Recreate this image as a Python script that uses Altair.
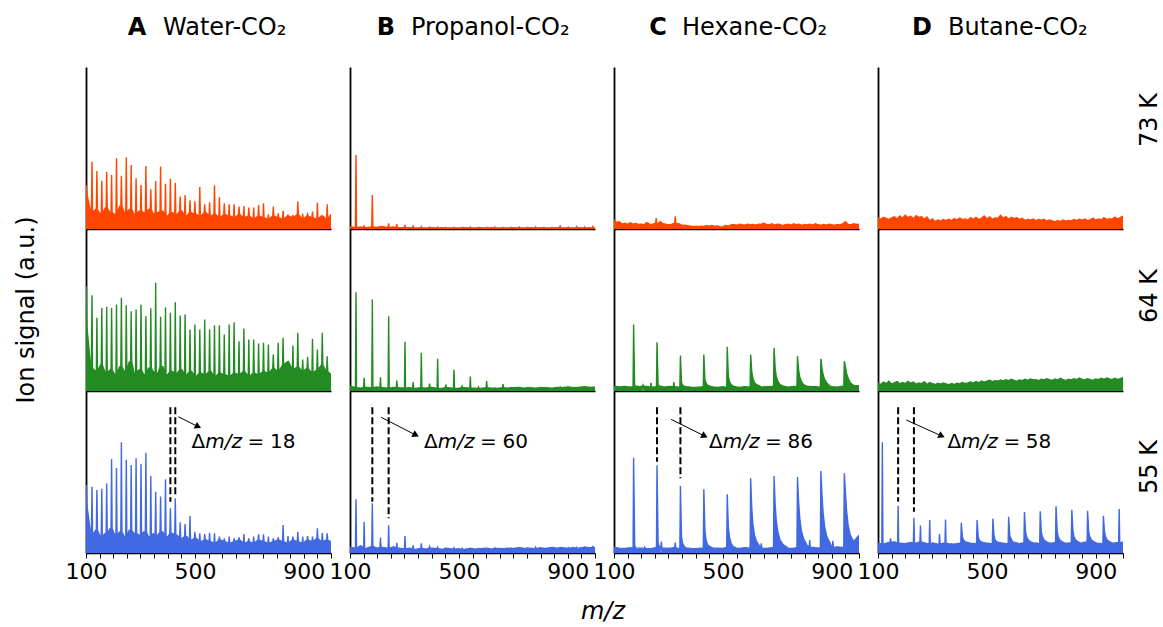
import math
import altair as alt
import numpy as np
import pandas as pd

FONT = "DejaVu Sans"
W, H = 245, 162
ORANGE, GREEN, BLUE = "#FF4500", "#228B22", "#4169E1"

titles = [("A", "Water-CO₂"), ("B", "Propanol-CO₂"), ("C", "Hexane-CO₂"), ("D", "Butane-CO₂")]
temps = ["73 K", "64 K", "55 K"]
tick_values = list(range(100, 1001, 50))
tick_labels = [100, 500, 900]
TAIL_OFFSETS = [4, 8, 14, 22, 34]

# ---------------- Water-CO2 (peaks every 18 m/z) ----------------
water_mz = [101] + list(range(122, 1000, 18))
water_73_h = [0.27, 0.415, 0.358, 0.298, 0.354, 0.333, 0.437, 0.329, 0.442, 0.395, 0.313,
              0.272, 0.389, 0.245, 0.296, 0.385, 0.280, 0.310, 0.284, 0.200, 0.210,
              0.177, 0.171, 0.259, 0.152, 0.165, 0.270, 0.196, 0.159, 0.152, 0.152,
              0.138, 0.142, 0.132, 0.132, 0.148, 0.159, 0.091, 0.138, 0.097, 0.113,
              0.086, 0.086, 0.169, 0.093, 0.091, 0.107, 0.162, 0.076, 0.152]
water_64_h = [0.646, 0.591, 0.452, 0.513, 0.520, 0.513, 0.534, 0.575, 0.530, 0.493, 0.503,
              0.534, 0.462, 0.511, 0.668, 0.458, 0.517, 0.483, 0.548, 0.466, 0.472,
              0.380, 0.410, 0.380, 0.441, 0.380, 0.406, 0.406, 0.349, 0.410, 0.425,
              0.307, 0.386, 0.318, 0.318, 0.293, 0.297, 0.287, 0.225, 0.297, 0.328,
              0.174, 0.281, 0.359, 0.194, 0.211, 0.322, 0.256, 0.359, 0.215]
water_55_h = [0.42, 0.409, 0.389, 0.397, 0.430, 0.580, 0.525, 0.683, 0.576, 0.543, 0.585,
              0.549, 0.619, 0.475, 0.378, 0.348, 0.455, 0.276, 0.338, 0.189, 0.179,
              0.228, 0.131, 0.121, 0.117, 0.125, 0.121, 0.101, 0.091, 0.101, 0.091,
              0.097, 0.117, 0.091, 0.101, 0.115, 0.115, 0.101, 0.091, 0.097, 0.173,
              0.105, 0.101, 0.131, 0.101, 0.105, 0.101, 0.152, 0.125, 0.121]
water_73_base = [0.22, 0.10, 0.12, 0.09, 0.13, 0.10, 0.09, 0.14, 0.10, 0.12, 0.09, 0.11, 0.10,
                 0.12, 0.09, 0.10, 0.11, 0.08, 0.10, 0.09, 0.11, 0.08, 0.10, 0.09, 0.08, 0.10,
                 0.08, 0.09, 0.07, 0.09, 0.08, 0.07, 0.09, 0.07, 0.08, 0.06, 0.08, 0.07, 0.06,
                 0.08, 0.07, 0.06, 0.08, 0.07, 0.09, 0.06, 0.08, 0.07, 0.06, 0.08, 0.06, 0.09]
water_64_base = [0.40, 0.14, 0.12, 0.16, 0.11, 0.13, 0.10, 0.15, 0.12, 0.18, 0.11, 0.13, 0.10,
                 0.14, 0.12, 0.11, 0.15, 0.10, 0.12, 0.11, 0.13, 0.10, 0.12, 0.09, 0.11, 0.10,
                 0.12, 0.09, 0.11, 0.10, 0.09, 0.11, 0.10, 0.12, 0.09, 0.11, 0.10, 0.12, 0.11,
                 0.14, 0.12, 0.16, 0.18, 0.13, 0.15, 0.12, 0.14, 0.11, 0.13, 0.16, 0.12, 0.10]
water_55_base = [0.30, 0.11, 0.14, 0.10, 0.12, 0.15, 0.11, 0.13, 0.10, 0.14, 0.12, 0.11, 0.13,
                 0.10, 0.12, 0.11, 0.13, 0.10, 0.12, 0.11, 0.09, 0.10, 0.08, 0.09, 0.07, 0.08,
                 0.07, 0.06, 0.08, 0.07, 0.06, 0.07, 0.08, 0.06, 0.07, 0.06, 0.08, 0.07, 0.06,
                 0.07, 0.08, 0.07, 0.06, 0.08, 0.07, 0.06, 0.08, 0.07, 0.09, 0.07, 0.08, 0.07]

# ---------------- Propanol-CO2 (peaks every 30/60 m/z) ----------------
prop_mz = list(range(122, 1000, 30))
prop_73_h = [0.457, 0.022, 0.210, 0.015, 0.035, 0.030, 0.025, 0.022, 0.015, 0.012, 0.012,
             0.010, 0.010, 0.010, 0.012, 0.010, 0.010, 0.012, 0.010, 0.010, 0.012, 0.010,
             0.012, 0.010, 0.010, 0.022, 0.012, 0.015, 0.012, 0.015]
prop_64_h = [0.610, 0.081, 0.565, 0.084, 0.462, 0.065, 0.304, 0.055, 0.236, 0.045, 0.199,
             0.040, 0.131, 0.030, 0.090, 0.025, 0.061, 0.020, 0.042, 0.018, 0.015, 0.018,
             0.015, 0.020, 0.018, 0.025, 0.020, 0.018, 0.020, 0.022]
prop_55_h = [0.331, 0.191, 0.307, 0.095, 0.171, 0.063, 0.105, 0.048, 0.059, 0.040, 0.035,
             0.030, 0.032, 0.028, 0.030, 0.028, 0.030, 0.032, 0.028, 0.030, 0.030, 0.032,
             0.035, 0.030, 0.032, 0.035, 0.033, 0.035, 0.038, 0.040]
prop_73_base = [0.012, 0.010, 0.012, 0.008, 0.012, 0.010, 0.014, 0.010, 0.012, 0.008, 0.010,
                0.008, 0.006, 0.008, 0.006, 0.008, 0.006, 0.008, 0.006, 0.008, 0.006, 0.008,
                0.007, 0.006, 0.008, 0.006, 0.008, 0.006, 0.008, 0.006, 0.008, 0.007, 0.006,
                0.008, 0.006, 0.008, 0.007, 0.006, 0.008, 0.006, 0.008, 0.007, 0.008, 0.006,
                0.008, 0.007]
prop_64_base = [0.030, 0.020, 0.018, 0.022, 0.020, 0.025, 0.020, 0.018, 0.022, 0.020, 0.018,
                0.020, 0.016, 0.020, 0.018, 0.022, 0.016, 0.018, 0.020, 0.016, 0.018, 0.020,
                0.017, 0.018, 0.016, 0.020, 0.018, 0.016, 0.020, 0.018, 0.020, 0.022, 0.018,
                0.020, 0.018, 0.022, 0.020, 0.018, 0.022, 0.020, 0.024, 0.020, 0.022, 0.026,
                0.022, 0.024]
prop_55_base = [0.035, 0.030, 0.045, 0.028, 0.040, 0.030, 0.035, 0.028, 0.038, 0.030, 0.025,
                0.030, 0.022, 0.028, 0.024, 0.030, 0.026, 0.022, 0.028, 0.024, 0.026, 0.022,
                0.028, 0.024, 0.026, 0.030, 0.024, 0.028, 0.026, 0.030, 0.028, 0.032, 0.028,
                0.030, 0.026, 0.032, 0.028, 0.034, 0.030, 0.032, 0.028, 0.034, 0.030, 0.036,
                0.032, 0.035]

# ---------------- Hexane-CO2 (peaks every 86 m/z) ----------------
hex_mz = [172, 258, 344, 430, 516, 602, 688, 774, 860, 946]
hex_73_mz = [255, 325]
hex_73_h = [0.067, 0.079]
hex_64_h = [0.410, 0.301, 0.219, 0.225, 0.273, 0.225, 0.267, 0.215, 0.199, 0.184]
hex_64_tails = [[0.03, 0.03, 0.03, 0.025, 0.025], [0.04, 0.03, 0.03, 0.025, 0.025],
                [0.05, 0.035, 0.03, 0.025, 0.025], [0.07, 0.05, 0.035, 0.03, 0.025],
                [0.09, 0.06, 0.04, 0.03, 0.025], [0.12, 0.08, 0.05, 0.04, 0.03],
                [0.14, 0.09, 0.06, 0.04, 0.03], [0.13, 0.09, 0.06, 0.04, 0.03],
                [0.14, 0.10, 0.07, 0.05, 0.03], [0.15, 0.11, 0.08, 0.05, 0.035]]
hex_64_small_mz = [206, 236, 320]
hex_64_small_h = [0.040, 0.050, 0.055]
hex_55_h = [0.588, 0.541, 0.414, 0.393, 0.362, 0.461, 0.475, 0.469, 0.506, 0.492]
hex_55_tails = [[0.05, 0.03, 0.03, 0.03, 0.03], [0.06, 0.04, 0.03, 0.03, 0.03],
                [0.10, 0.06, 0.04, 0.03, 0.03], [0.14, 0.08, 0.05, 0.04, 0.03],
                [0.16, 0.10, 0.06, 0.04, 0.03], [0.28, 0.18, 0.11, 0.07, 0.04],
                [0.30, 0.20, 0.13, 0.08, 0.05], [0.32, 0.22, 0.14, 0.09, 0.05],
                [0.36, 0.25, 0.16, 0.10, 0.06], [0.38, 0.27, 0.17, 0.11, 0.07]]
hex_55_small_mz = [213, 274, 325, 641, 819, 904]
hex_55_small_h = [0.035, 0.070, 0.065, 0.060, 0.080, 0.075]
hex_73_base = [0.058, 0.040, 0.045, 0.030, 0.035, 0.028, 0.038, 0.030, 0.034, 0.028, 0.030,
               0.026, 0.040, 0.030, 0.028, 0.035, 0.030, 0.045, 0.032, 0.030, 0.025, 0.028,
               0.035, 0.035, 0.032, 0.022, 0.024, 0.020, 0.018, 0.015, 0.016, 0.015, 0.018,
               0.016, 0.020, 0.018, 0.022, 0.016, 0.018, 0.012, 0.015, 0.022, 0.018, 0.025,
               0.028, 0.022, 0.030, 0.026, 0.024, 0.030, 0.026, 0.028, 0.024, 0.030, 0.028,
               0.036, 0.028, 0.026, 0.032, 0.024, 0.030, 0.028, 0.020, 0.026, 0.030, 0.024,
               0.032, 0.026, 0.030, 0.022, 0.028, 0.025, 0.030, 0.024, 0.032, 0.026, 0.022,
               0.028, 0.024, 0.030, 0.026, 0.022, 0.028, 0.025, 0.032, 0.045, 0.028, 0.026,
               0.032, 0.028, 0.030]
hex_64_base = [0.030, 0.025, 0.028, 0.024, 0.026, 0.030, 0.028, 0.024, 0.026, 0.030, 0.028,
               0.026, 0.024, 0.022, 0.024, 0.022, 0.025, 0.022, 0.024, 0.022, 0.026, 0.022,
               0.024, 0.022, 0.026, 0.024, 0.028, 0.024, 0.026, 0.028, 0.024, 0.026, 0.024,
               0.028, 0.026, 0.024, 0.028, 0.026, 0.024, 0.028, 0.026, 0.024, 0.030, 0.026,
               0.028, 0.032]
hex_55_base = [0.035, 0.030, 0.028, 0.032, 0.028, 0.030, 0.026, 0.028, 0.035, 0.030, 0.028,
               0.032, 0.026, 0.030, 0.028, 0.026, 0.030, 0.028, 0.026, 0.030, 0.028, 0.034,
               0.030, 0.028, 0.032, 0.030, 0.034, 0.030, 0.028, 0.032, 0.030, 0.034, 0.030,
               0.028, 0.034, 0.030, 0.036, 0.032, 0.030, 0.036, 0.034, 0.038, 0.034, 0.040,
               0.050, 0.110]

# ---------------- Butane-CO2 (peaks every 58 m/z) ----------------
but_mz = list(range(116, 1000, 58))
but_55_h = [0.683, 0.292, 0.218, 0.204, 0.206, 0.187, 0.204, 0.212, 0.224, 0.253, 0.257,
            0.288, 0.267, 0.261, 0.230, 0.272]
but_55_tails = [None, None, None, None, None,
                [0.10, 0.08, 0.07, 0.065, 0.06], [0.10, 0.08, 0.07, 0.065, 0.06],
                [0.11, 0.08, 0.07, 0.065, 0.06], [0.11, 0.09, 0.07, 0.065, 0.06],
                [0.13, 0.10, 0.08, 0.07, 0.06], [0.13, 0.10, 0.08, 0.07, 0.06],
                [0.14, 0.10, 0.08, 0.07, 0.06], [0.14, 0.10, 0.08, 0.07, 0.06],
                [0.13, 0.10, 0.08, 0.07, 0.06], [0.13, 0.10, 0.08, 0.07, 0.06], None]
but_55_small_mz = [146, 256, 326]
but_55_small_h = [0.090, 0.169, 0.117]
but_73_base = [0.070, 0.060, 0.072, 0.065, 0.058, 0.068, 0.075, 0.062, 0.080, 0.066, 0.085,
               0.070, 0.078, 0.064, 0.082, 0.072, 0.076, 0.060, 0.074, 0.050, 0.062, 0.045,
               0.055, 0.048, 0.058, 0.052, 0.060, 0.050, 0.064, 0.055, 0.068, 0.058, 0.062,
               0.054, 0.070, 0.060, 0.072, 0.058, 0.066, 0.080, 0.062, 0.074, 0.058, 0.070,
               0.064, 0.085, 0.066, 0.076, 0.060, 0.072, 0.064, 0.070, 0.058, 0.066, 0.052,
               0.060, 0.055, 0.062, 0.050, 0.058, 0.054, 0.060, 0.048, 0.056, 0.050, 0.044,
               0.052, 0.046, 0.055, 0.048, 0.052, 0.050, 0.058, 0.052, 0.060, 0.055, 0.062,
               0.050, 0.058, 0.066, 0.054, 0.062, 0.056, 0.070, 0.058, 0.064, 0.060, 0.074,
               0.062, 0.070, 0.080]
but_64_base = [0.050, 0.040, 0.055, 0.045, 0.060, 0.042, 0.050, 0.058, 0.044, 0.052, 0.046,
               0.060, 0.048, 0.055, 0.042, 0.050, 0.045, 0.058, 0.040, 0.052, 0.046, 0.040,
               0.048, 0.042, 0.050, 0.044, 0.038, 0.046, 0.040, 0.048, 0.044, 0.052, 0.046,
               0.050, 0.055, 0.048, 0.058, 0.050, 0.062, 0.054, 0.060, 0.066, 0.058, 0.064,
               0.060, 0.068, 0.062, 0.070, 0.064, 0.072, 0.066, 0.060, 0.068, 0.064, 0.072,
               0.066, 0.074, 0.068, 0.070, 0.064, 0.072, 0.068, 0.076, 0.070, 0.066, 0.074,
               0.068, 0.078, 0.070, 0.064, 0.072, 0.068, 0.076, 0.070, 0.080, 0.072, 0.068,
               0.076, 0.070, 0.066, 0.074, 0.070, 0.078, 0.072, 0.080, 0.074, 0.070, 0.078,
               0.072, 0.076, 0.082]
but_55_base = [0.060, 0.055, 0.065, 0.070, 0.060, 0.058, 0.065, 0.060, 0.068, 0.058, 0.062,
               0.055, 0.060, 0.058, 0.055, 0.060, 0.056, 0.062, 0.058, 0.055, 0.060, 0.058,
               0.062, 0.060, 0.056, 0.062, 0.058, 0.064, 0.060, 0.062, 0.058, 0.064, 0.060,
               0.066, 0.062, 0.060, 0.064, 0.062, 0.066, 0.060, 0.064, 0.058, 0.062, 0.060,
               0.064, 0.066]

# Annotations (bottom row): dashed markers, arrow and Δm/z label
annotations = [
    dict(lines=[(410, 0.317), (428, 0.348)], arrow=(439, 0.841, 512, 0.780), text=(488, 0.687), label="18"),
    dict(lines=[(182, 0.317), (242, 0.214)], arrow=(214, 0.838, 342, 0.728), text=(372, 0.687), label="60"),
    dict(lines=[(258, 0.564), (344, 0.461)], arrow=(310, 0.825, 433, 0.722), text=(449, 0.687), label="86"),
    dict(lines=[(174, 0.317), (232, 0.255)], arrow=(204, 0.821, 334, 0.722), text=(355, 0.687), label="58"),
]
DASH_TOP = 0.90


def build_points(base_vals, peak_mz, peak_h, tails=None):
    bmz = np.linspace(100, 1000, len(base_vals))
    zones, pts = [], []
    for i, (p, h) in enumerate(zip(peak_mz, peak_h)):
        j = int(np.argmin(np.abs(bmz - p)))
        foot = base_vals[j]
        tl = tails[i] if tails is not None else None
        pts += [(p - 2, foot), (p, h)]
        if tl:
            for off, val in zip(TAIL_OFFSETS, tl):
                pts.append((p + off, val))
            zones.append((p - 2, p + TAIL_OFFSETS[len(tl) - 1]))
        else:
            pts.append((p + 2, foot))
            zones.append((p - 2, p + 2))
    for m, val in zip(bmz, base_vals):
        if not any(a <= m <= b for a, b in zones):
            pts.append((float(m), val))
    pts.sort()
    return pd.DataFrame({"mz": [q[0] for q in pts], "v": [q[1] for q in pts]})


spectra = [
    [build_points(water_73_base, water_mz, water_73_h),
     build_points(water_64_base, water_mz, water_64_h),
     build_points(water_55_base, water_mz, water_55_h)],
    [build_points(prop_73_base, prop_mz, prop_73_h),
     build_points(prop_64_base, prop_mz, prop_64_h),
     build_points(prop_55_base, prop_mz, prop_55_h)],
    [build_points(hex_73_base, hex_73_mz, hex_73_h),
     build_points(hex_64_base, hex_mz + hex_64_small_mz, hex_64_h + hex_64_small_h,
                  hex_64_tails + [None] * len(hex_64_small_mz)),
     build_points(hex_55_base, hex_mz + hex_55_small_mz, hex_55_h + hex_55_small_h,
                  hex_55_tails + [None] * len(hex_55_small_mz))],
    [build_points(but_73_base, [], []),
     build_points(but_64_base, [], []),
     build_points(but_55_base, but_mz + but_55_small_mz, but_55_h + but_55_small_h,
                  but_55_tails + [None] * len(but_55_small_mz))],
]
row_colors = [ORANGE, GREEN, BLUE]


def xenc(field, bottom):
    if bottom:
        ax = alt.Axis(values=tick_values,
                      labelExpr="datum.value == 100 || datum.value == 500 || datum.value == 900 ? datum.label : ''",
                      format="d", tickSize=5, tickWidth=1, tickColor="black",
                      labelFontSize=22, labelFont=FONT, labelColor="black", labelPadding=3,
                      domainColor="black", domainWidth=1.6, grid=False, title=None,
                      labelFlush=False, labelOverlap=False, labelBound=False)
    else:
        ax = alt.Axis(labels=False, ticks=False, domainColor="black", domainWidth=1.6,
                      grid=False, title=None)
    return alt.X(field, type="quantitative",
                 scale=alt.Scale(domain=[100, 1000], nice=False, zero=False), axis=ax)


def yenc(field):
    return alt.Y(field, type="quantitative",
                 scale=alt.Scale(domain=[0, 1], nice=False, zero=True),
                 axis=alt.Axis(labels=False, ticks=False, grid=False, title=None,
                               domainColor="black", domainWidth=1.8))


def value_text(text, x, y, size, **kw):
    return alt.Chart(pd.DataFrame({"t": [text]})).mark_text(
        font=FONT, fontSize=size, color="black", baseline="middle", **kw
    ).encode(x=alt.value(x), y=alt.value(y), text="t:N")


def anchor(x, y):
    return alt.Chart(pd.DataFrame({"a": [0]})).mark_rule(opacity=0, strokeWidth=0).encode(
        x=alt.value(x), x2=alt.value(x), y=alt.value(y), y2=alt.value(y))


title_pos = [(51, 77), (36, 61), (44, 68), (44, 70)]
temp_y = [53, 67, 76]

panels = []
for r in range(3):
    for c in range(4):
        bottom = r == 2
        df = spectra[c][r]
        color = row_colors[r]
        layers = [
            alt.Chart(df).mark_area(color=color, opacity=1, clip=True).encode(
                x=xenc("mz", bottom), y=yenc("v")),
            alt.Chart(df).mark_line(color=color, strokeWidth=1.4, clip=True).encode(
                x=xenc("mz", bottom), y=yenc("v")),
        ]
        if bottom:
            a = annotations[c]
            ldf = pd.DataFrame({"mz": [l[0] for l in a["lines"]],
                                "top": [DASH_TOP] * len(a["lines"]),
                                "bot": [l[1] for l in a["lines"]]})
            layers.append(alt.Chart(ldf).mark_rule(color="black", strokeWidth=2, strokeDash=[7, 3]).encode(
                x=xenc("mz", True), y=yenc("top"), y2="bot:Q"))
            x1, y1, x2, y2 = a["arrow"]
            adf = pd.DataFrame({"x1": [x1], "y1": [y1], "x2": [x2], "y2": [y2]})
            layers.append(alt.Chart(adf).mark_rule(color="black", strokeWidth=1).encode(
                x=xenc("x1", True), x2="x2:Q", y=yenc("y1"), y2="y2:Q"))
            ang = math.degrees(math.atan2((y1 - y2) * H, (x2 - x1) * W / 900))
            layers.append(alt.Chart(adf).mark_point(shape="triangle-right", filled=True, size=55,
                                                    color="black", opacity=1, angle=ang).encode(
                x=xenc("x2", True), y=yenc("y2")))
            tx, ty = a["text"]
            pieces = [("Δ", 0, "normal"), ("m/z", 13.7, "italic"), ("=", 56, "normal"), (a["label"], 78.4, "normal")]
            for t, dx, style in pieces:
                tdf = pd.DataFrame({"x": [tx], "y": [ty], "t": [t]})
                layers.append(alt.Chart(tdf).mark_text(font=FONT, fontSize=20, color="black", align="left",
                                                       baseline="middle", dx=dx, fontStyle=style).encode(
                    x=xenc("x", True), y=yenc("y"), text="t:N"))
        if r == 0:
            lx, tx0 = title_pos[c]
            layers.append(value_text(titles[c][0], lx, -39, 24, align="center", fontWeight="bold"))
            layers.append(value_text(titles[c][1], tx0, -39, 24, align="left"))
        if c == 3:
            layers.append(value_text(temps[r], 272, temp_y[r], 24, align="center", angle=270))
        if c == 0 and r == 1:
            layers.append(value_text("Ion signal (a.u.)", -59, 81, 24, align="center", angle=270))
        if c == 2 and r == 2:
            layers.append(value_text("m/z", -11, 221, 24, align="center", fontStyle="italic"))
        if c == 0 and r == 0:
            layers.append(anchor(-86, -67))
        if c == 3 and r == 2:
            layers.append(anchor(1163 - 878, 627 - 391))
        panels.append(alt.layer(*layers).properties(width=W, height=H))

chart = alt.concat(*panels, columns=4, spacing={"row": 0, "column": 19}, bounds="flush").properties(
    padding=0, background="white", autosize=alt.AutoSizeParams(type="pad")
).configure_view(stroke=None)

chart.save("out.html", embed_options={"renderer": "svg", "actions": False})
